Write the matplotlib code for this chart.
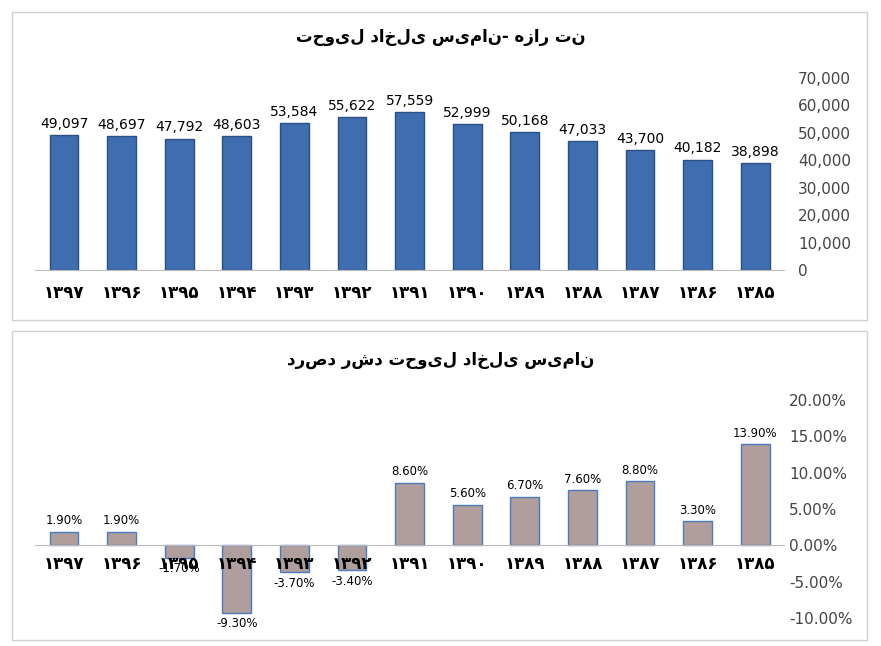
import matplotlib
matplotlib.use("Agg")
import matplotlib.pyplot as plt
from matplotlib.patches import Rectangle

years = ["۱۳۹۷","۱۳۹۶","۱۳۹۵","۱۳۹۴","۱۳۹۳","۱۳۹۲","۱۳۹۱","۱۳۹۰","۱۳۸۹","۱۳۸۸","۱۳۸۷","۱۳۸۶","۱۳۸۵"]
delivery = [49097,48697,47792,48603,53584,55622,57559,52999,50168,47033,43700,40182,38898]
growth = [1.9,1.9,-1.7,-9.3,-3.7,-3.4,8.6,5.6,6.7,7.6,8.8,3.3,13.9]
title1 = "تحویل داخلی سیمان- هزار تن"
title2 = "درصد رشد تحویل داخلی سیمان"

fig = plt.figure(figsize=(8.81,6.46), dpi=100)
for (y0,h) in [(0.505,0.477),(0.01,0.477)]:
    fig.add_artist(Rectangle((0.014,y0),0.970,h,transform=fig.transFigure,fill=False,ec="#d0d0d0",lw=1))

x = range(len(years))
ax1 = fig.add_axes([0.04,0.582,0.85,0.298])
ax1.bar(x,delivery,width=0.5,color="#3e6db0",edgecolor="#2a4f85")
for i,v in enumerate(delivery):
    ax1.text(i,v+1500,f"{v:,}",ha="center",va="bottom",fontsize=10)
ax1.set_ylim(0,70000); ax1.set_xlim(-0.5,12.5)
ax1.yaxis.tick_right()
ax1.set_yticks(range(0,70001,10000))
ax1.set_yticklabels([f"{v:,}" for v in range(0,70001,10000)],fontsize=11,color="#444")
ax1.set_xticks(list(x)); ax1.set_xticklabels(years,fontsize=12,fontweight="bold")
ax1.tick_params(length=0,axis="both",pad=10)
for s in ["top","right","left"]: ax1.spines[s].set_visible(False)
ax1.spines["bottom"].set_color("#bbb")
fig.text(0.5,0.935,title1,ha="center",fontsize=12,fontweight="bold")

ax2 = fig.add_axes([0.04,0.043,0.85,0.338])
ax2.bar(x,growth,width=0.5,color="#b09e9c",edgecolor="#4a7abf",lw=1)
for i,v in enumerate(growth):
    y = v+0.6 if v>=0 else v-0.6
    ax2.text(i,y,f"{v:.2f}%",ha="center",va="bottom" if v>=0 else "top",fontsize=8.5)
ax2.set_ylim(-10,20); ax2.set_xlim(-0.5,12.5)
ax2.yaxis.tick_right()
ax2.set_yticks(range(-10,21,5))
ax2.set_yticklabels([f"{v:.2f}%" for v in range(-10,21,5)],fontsize=11,color="#444")
ax2.set_xticks(list(x)); ax2.set_xticklabels([])
ax2.tick_params(length=0,axis="both")
ax2.spines["bottom"].set_position(("data",0))
for s in ["top","right","left"]: ax2.spines[s].set_visible(False)
ax2.spines["bottom"].set_color("#bbb")
for i,yr in enumerate(years):
    ax2.text(i,-2.6,yr,ha="center",va="center",fontsize=12,fontweight="bold")
fig.text(0.5,0.435,title2,ha="center",fontsize=12,fontweight="bold")
fig.savefig("out.png",dpi=100)
